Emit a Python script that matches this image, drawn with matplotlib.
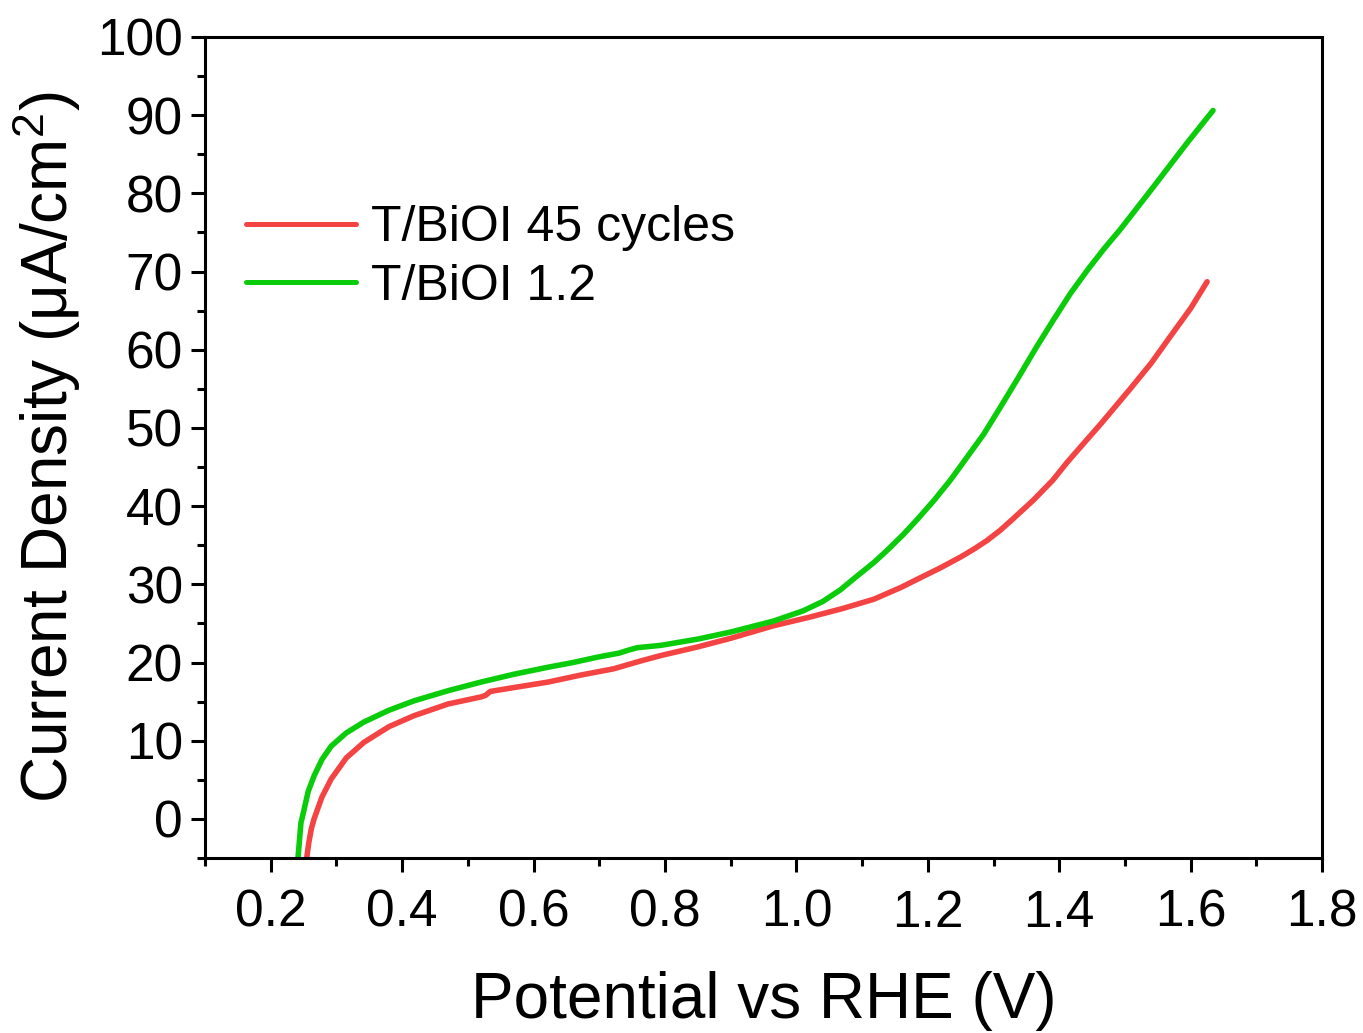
"""
LSV curves: T/BiOI 45 cycles vs T/BiOI 1.2
Current density vs potential (RHE), Origin-style plot.
"""
import matplotlib
matplotlib.use("Agg")
import matplotlib.pyplot as plt
from matplotlib.ticker import MultipleLocator

# T/BiOI 45 cycles
pot_45 = [0.254, 0.258, 0.262, 0.266, 0.278, 0.292, 0.315, 0.342, 0.38, 0.418,
          0.47, 0.52, 0.527, 0.534, 0.57, 0.622, 0.672, 0.722, 0.763, 0.794,
          0.85, 0.90, 0.965, 1.02, 1.07, 1.118, 1.159, 1.19, 1.219, 1.25,
          1.27, 1.29, 1.31, 1.33, 1.361, 1.39, 1.412, 1.44, 1.463, 1.49, 1.508,
          1.54, 1.569, 1.60, 1.625]
cur_45 = [-5.5, -3.0, -1.2, 0.0, 2.8, 5.1, 7.8, 9.8, 11.8, 13.2,
          14.7, 15.6, 15.8, 16.3, 16.8, 17.5, 18.4, 19.2, 20.2, 20.9,
          22.0, 23.1, 24.7, 25.8, 26.9, 28.1, 29.6, 30.9, 32.1, 33.5,
          34.5, 35.6, 36.9, 38.4, 40.8, 43.3, 45.6, 48.3, 50.5, 53.2, 55.0,
          58.3, 61.7, 65.3, 68.7]

# T/BiOI 1.2
pot_12 = [0.241, 0.244, 0.246, 0.250, 0.257, 0.266, 0.278, 0.292, 0.315, 0.342,
          0.38, 0.418, 0.47, 0.52, 0.57, 0.622, 0.66, 0.698, 0.73, 0.745,
          0.758, 0.794, 0.85, 0.90, 0.965, 1.01, 1.04, 1.067, 1.09, 1.118,
          1.14, 1.163, 1.185, 1.21, 1.235, 1.26, 1.285, 1.31, 1.336, 1.365,
          1.391, 1.417, 1.443, 1.468, 1.493, 1.543, 1.595, 1.634]
cur_12 = [-5.5, -2.5, -0.5, 0.9, 3.5, 5.5, 7.6, 9.3, 11.0, 12.4,
          13.9, 15.1, 16.4, 17.5, 18.5, 19.4, 20.0, 20.7, 21.2, 21.6,
          21.9, 22.2, 23.0, 23.9, 25.3, 26.6, 27.8, 29.3, 30.9, 32.8,
          34.5, 36.4, 38.4, 40.8, 43.4, 46.3, 49.2, 52.6, 56.2, 60.3,
          63.8, 67.2, 70.2, 72.9, 75.4, 80.8, 86.5, 90.6]

plt.rcParams["font.family"] = ["Liberation Sans", "DejaVu Sans"]
plt.rcParams["mathtext.fontset"] = "custom"
plt.rcParams["mathtext.rm"] = "Liberation Sans"
plt.rcParams["mathtext.default"] = "regular"

RED = "#f44343"
GREEN = "#0bcc0b"

fig = plt.figure(figsize=(13.63, 10.33), dpi=100)
ax = fig.add_axes([0.1504, 0.1694, 0.8196, 0.7948])

ax.plot(pot_45, cur_45, color=RED, lw=4, label="T/BiOI 45 cycles",
        solid_capstyle="round", solid_joinstyle="round")
ax.plot(pot_12, cur_12, color=GREEN, lw=4, label="T/BiOI 1.2",
        solid_capstyle="round", solid_joinstyle="round")

ax.set_xlim(0.1, 1.8)
ax.set_ylim(-5, 100)
ax.xaxis.set_major_locator(MultipleLocator(0.2))
ax.xaxis.set_minor_locator(MultipleLocator(0.1))
ax.yaxis.set_major_locator(MultipleLocator(10))
ax.yaxis.set_minor_locator(MultipleLocator(5))
ax.set_xticks([0.2, 0.4, 0.6, 0.8, 1.0, 1.2, 1.4, 1.6, 1.8])
ax.set_xticklabels(["0.2", "0.4", "0.6", "0.8", "1.0", "1.2", "1.4", "1.6", "1.8"])

for s in ax.spines.values():
    s.set_linewidth(2.2)
ax.tick_params(which="both", direction="out", width=2.2, top=False, right=False)
ax.tick_params(which="major", length=10, labelsize=37)
ax.tick_params(axis="x", which="major", pad=12)
ax.tick_params(axis="y", which="major", pad=6)
ax.tick_params(which="minor", length=5.5)

ax.set_xlabel("Potential vs RHE (V)", fontsize=46, labelpad=24)
ax.set_ylabel("Current Density (μA/cm$^{2}$)", fontsize=46, labelpad=10)

leg = ax.legend(loc="upper left", bbox_to_anchor=(0.037, 0.795), frameon=False,
                fontsize=36, handlelength=2.2, handletextpad=0.3,
                borderpad=0, borderaxespad=0, labelspacing=0.25)
for h in leg.get_lines():
    h.set_linewidth(3.6)

fig.savefig("out.png", dpi=100)
